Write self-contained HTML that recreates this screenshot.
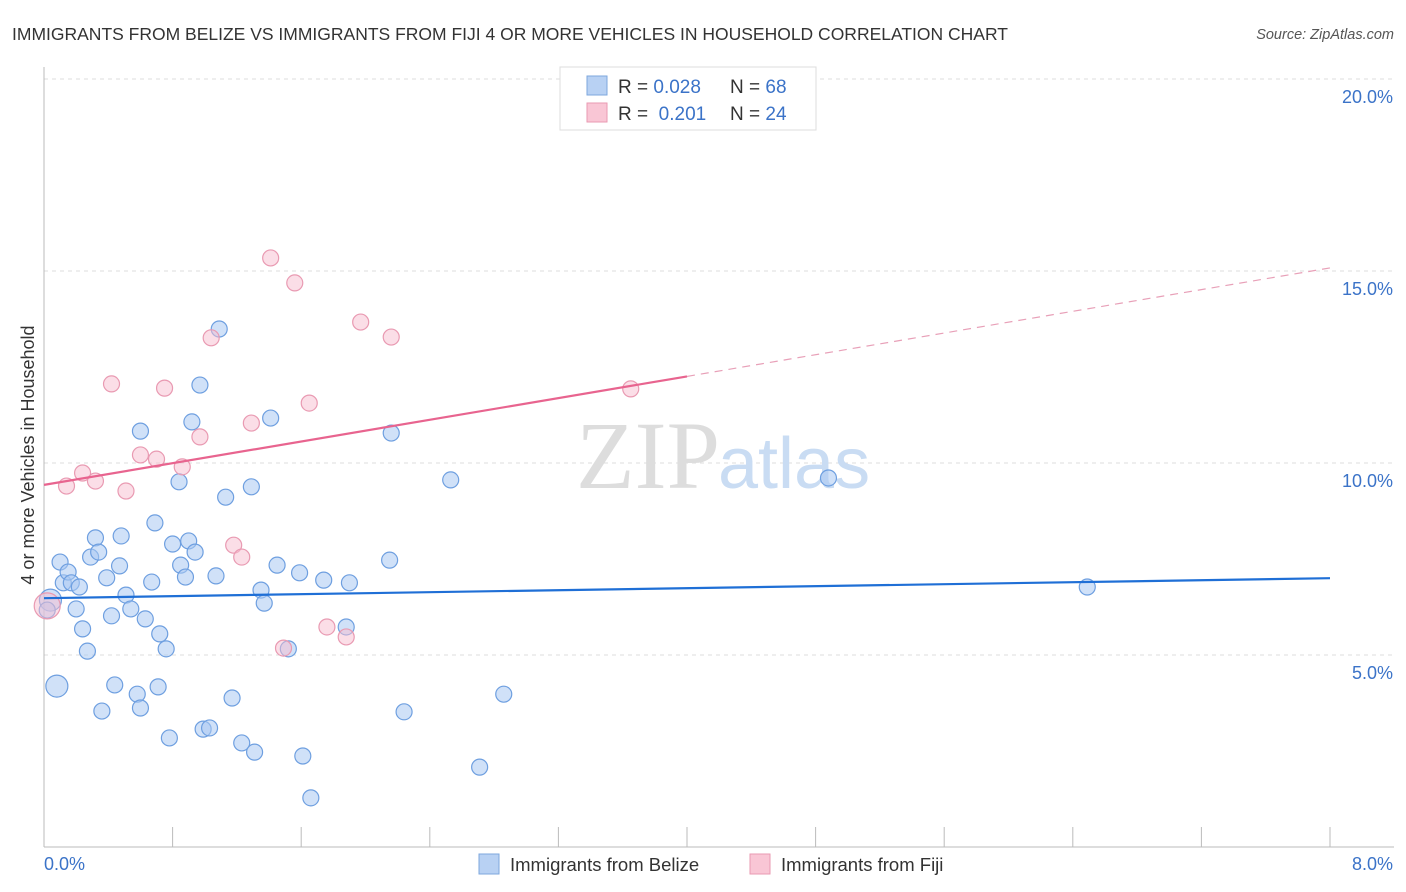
<!DOCTYPE html>
<html><head><meta charset="utf-8"><style>
body{margin:0;background:#fff;font-family:"Liberation Sans",sans-serif;}
svg{display:block}
</style></head><body>
<svg id="chart" width="1406" height="892">
<text x="12" y="40" font-size="17.5" fill="#333">IMMIGRANTS FROM BELIZE VS IMMIGRANTS FROM FIJI 4 OR MORE VEHICLES IN HOUSEHOLD CORRELATION CHART</text>
<text x="1394" y="39" font-size="14.5" font-style="italic" fill="#555" text-anchor="end">Source: ZipAtlas.com</text>
<g id="grid"></g>
<g id="axes"></g>
<text x="720" y="488" font-size="96" font-family="Liberation Serif,serif" fill="#ddd" text-anchor="end">ZIP</text>
<text x="718" y="488" font-size="72" fill="#c9dcf3">atlas</text>
<g id="marks"></g>
<text transform="translate(34,455) rotate(-90)" font-size="18" fill="#333" text-anchor="middle">4 or more Vehicles in Household</text>
<g>
<rect x="560" y="67" width="256" height="63" fill="#fff" stroke="#ddd"/>
<rect x="587" y="76" width="20" height="19" fill="#b8d1f3" stroke="#7ea7de"/>
<rect x="587" y="103" width="20" height="19" fill="#f9c6d5" stroke="#e99ab2"/>
<text x="618" y="93" font-size="19" fill="#333">R = <tspan fill="#3b73c8">0.028</tspan></text>
<text x="730" y="93" font-size="19" fill="#333">N = <tspan fill="#3b73c8">68</tspan></text>
<text x="618" y="120" font-size="19" fill="#333">R = <tspan fill="#3b73c8">&#160;0.201</tspan></text>
<text x="730" y="120" font-size="19" fill="#333">N = <tspan fill="#3b73c8">24</tspan></text>
</g>
<g>
<rect x="479" y="854" width="20" height="20" fill="#b8d1f3" stroke="#7ea7de"/>
<text x="510" y="871" font-size="18.5" fill="#333">Immigrants from Belize</text>
<rect x="750" y="854" width="20" height="20" fill="#f9c6d5" stroke="#e99ab2"/>
<text x="781" y="871" font-size="18.5" fill="#333">Immigrants from Fiji</text>
</g>
</svg>
<script>
const belizeX=[0.04,0.08,0.10,0.12,0.15,0.17,0.20,0.22,0.24,0.27,0.29,0.32,0.34,0.36,0.39,0.42,0.44,0.47,0.48,0.51,0.54,0.58,0.60,0.60,0.63,0.67,0.69,0.71,0.72,0.76,0.78,0.80,0.84,0.85,0.88,0.90,0.92,0.94,0.97,0.99,1.03,1.07,1.09,1.13,1.17,1.23,1.29,1.31,1.35,1.37,1.41,1.45,1.52,1.59,1.61,1.66,1.74,1.88,1.90,2.15,2.16,2.24,2.53,2.71,2.86,4.88,6.49,0.02];
const belizeY=[6.43,4.19,7.42,6.88,7.16,6.88,6.20,6.77,5.68,5.10,7.55,8.05,7.68,3.54,7.01,6.02,4.22,7.32,8.10,6.56,6.20,3.98,10.83,3.62,5.94,6.90,8.44,4.17,5.55,5.16,2.84,7.89,9.51,7.34,7.03,7.97,11.07,7.68,12.03,3.07,3.10,7.06,13.49,9.11,3.88,2.71,9.38,2.47,6.69,6.35,11.17,7.34,5.16,7.14,2.37,1.28,6.95,5.73,6.88,7.47,10.78,3.52,9.56,2.08,3.98,9.61,6.77,6.17];
const belizeBig=[0,1];
const fijiX=[0.02,0.14,0.24,0.32,0.42,0.51,0.60,0.70,0.75,0.86,0.97,1.04,1.18,1.23,1.29,1.41,1.49,1.56,1.65,1.76,1.88,1.97,2.16,3.65];
const fijiY=[6.28,9.40,9.74,9.53,12.06,9.27,10.21,10.10,11.95,9.90,10.68,13.26,7.86,7.55,11.04,15.34,5.18,14.69,11.56,5.73,5.47,13.67,13.28,11.93];
const belizeTrend=[6.48,7.0];
const fijiTrend=[9.43,15.08];
const fijiSolidEnd=4.0;
const yTicks=[5,10,15,20];
const xTickLabels=["0.0%","8.0%"];

const NS="http://www.w3.org/2000/svg";
const X=v=>44+v*160.75, Y=v=>847-v*38.4;
function mk(tag,attrs,parent){const e=document.createElementNS(NS,tag);for(const k in attrs)e.setAttribute(k,attrs[k]);parent.appendChild(e);return e;}
const grid=document.getElementById('grid'),axes=document.getElementById('axes'),marks=document.getElementById('marks');
yTicks.forEach(t=>{
 const l=mk('line',{x1:44,x2:1394,y1:Y(t),y2:Y(t),stroke:'#ddd','stroke-dasharray':'4,4'},grid);
 
 
 const tx=mk('text',{x:1393,y:Y(t)+24,'font-size':18,fill:'#3b73c8','text-anchor':'end'},axes);
 tx.textContent=t.toFixed(1)+'%';
 
 
});
mk('line',{x1:44,x2:44,y1:67,y2:847,stroke:'#bbb'},axes);
mk('line',{x1:44,x2:1394,y1:847,y2:847,stroke:'#bbb'},axes);
for(let i=0;i<=10;i++){
 const t=mk('line',{x1:X(i*0.8),x2:X(i*0.8),y1:827,y2:847,stroke:'#bbb'},axes);
 
 
}
const xl0=mk('text',{x:44,y:870,'font-size':18,fill:'#3b73c8'},axes);xl0.textContent=xTickLabels[0];


const xl1=mk('text',{x:1393,y:870,'font-size':18,fill:'#3b73c8','text-anchor':'end'},axes);xl1.textContent=xTickLabels[1];



belizeX.forEach((x,i)=>{
 const c=mk('circle',{cx:X(x),cy:Y(belizeY[i]),r:belizeBig.includes(i)?11:8,fill:'rgba(170,200,242,0.55)',stroke:'#6e9fe0','stroke-width':1.2},marks);
 
 
});
fijiX.forEach((x,i)=>{
 const c=mk('circle',{cx:X(x),cy:Y(fijiY[i]),r:i===0?13:8,fill:'rgba(248,190,208,0.5)',stroke:'#e99ab2','stroke-width':1.2},marks);
 
 
});
const bl=mk('line',{x1:X(0),y1:Y(belizeTrend[0]),x2:X(8),y2:Y(belizeTrend[1]),stroke:'#1f6fd6','stroke-width':2.2},marks);


const fy=x=>fijiTrend[0]+(fijiTrend[1]-fijiTrend[0])*x/8;
const fl=mk('line',{x1:X(0),y1:Y(fy(0)),x2:X(fijiSolidEnd),y2:Y(fy(fijiSolidEnd)),stroke:'#e8648f','stroke-width':2.2},marks);


const fd=mk('line',{x1:X(fijiSolidEnd),y1:Y(fy(fijiSolidEnd)),x2:X(8),y2:Y(fy(8)),stroke:'#e8a0b8','stroke-width':1.2,'stroke-dasharray':'8,6'},marks);


</script>
</body></html>
